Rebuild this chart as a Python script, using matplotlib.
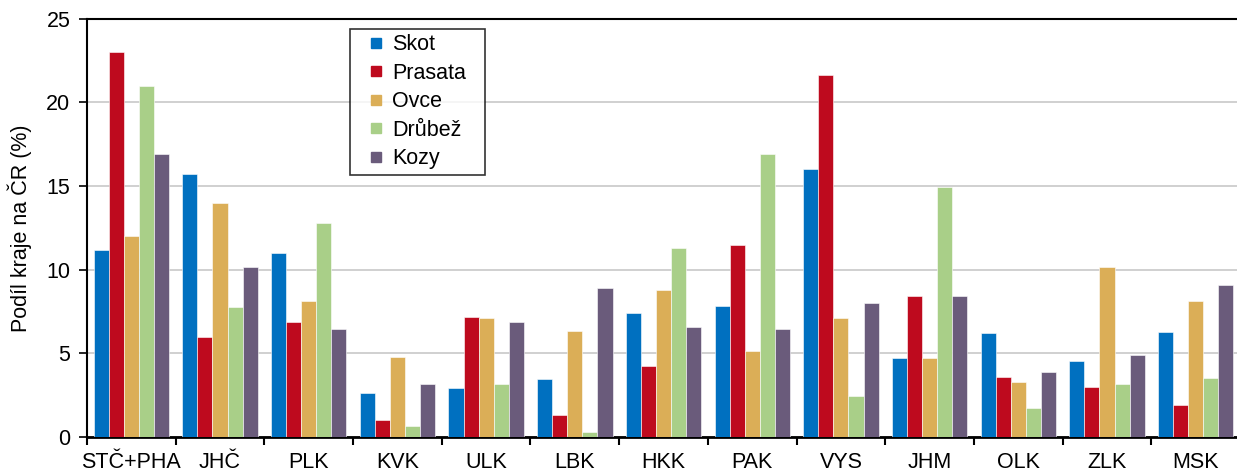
import matplotlib
matplotlib.use('Agg')
import matplotlib.pyplot as plt
from matplotlib.lines import Line2D
import numpy as np

plt.rcParams['font.family'] = ['Liberation Sans', 'DejaVu Sans']

kraje = ['STČ+PHA', 'JHČ', 'PLK', 'KVK', 'ULK', 'LBK', 'HKK', 'PAK', 'VYS', 'JHM', 'OLK', 'ZLK', 'MSK']
skot = [11.2, 15.7, 11.0, 2.6, 2.9, 3.45, 7.4, 7.8, 16.0, 4.75, 6.2, 4.55, 6.25]
prasata = [23.0, 6.0, 6.9, 1.0, 7.2, 1.3, 4.25, 11.5, 21.65, 8.45, 3.6, 3.0, 1.9]
ovce = [12.0, 14.0, 8.15, 4.8, 7.1, 6.35, 8.8, 5.15, 7.1, 4.7, 3.3, 10.15, 8.1]
drubez = [21.0, 7.75, 12.8, 0.65, 3.15, 0.3, 11.3, 16.9, 2.45, 14.95, 1.75, 3.15, 3.55]
kozy = [16.9, 10.15, 6.45, 3.15, 6.85, 8.9, 6.6, 6.45, 8.0, 8.4, 3.9, 4.9, 9.1]

serie = [skot, prasata, ovce, drubez, kozy]
nazvy = ['Skot', 'Prasata', 'Ovce', 'Drůbež', 'Kozy']
barvy = ['#0070C0', '#BE0A1E', '#DBAE57', '#A9CF88', '#6A5B7B']

fig = plt.figure(figsize=(12.37, 4.72), dpi=100)
ax = fig.add_axes([0.0703, 0.0742, 0.9322, 0.8862])

x = np.arange(len(kraje)) + 0.5
w = 0.17
for i, (vals, nazev, c) in enumerate(zip(serie, nazvy, barvy)):
    ax.bar(x + (i - 2) * w, vals, w, color=c, label=nazev, edgecolor='white', linewidth=0.4, zorder=3)

fs = 15.5
ax.set_xlim(0, len(kraje))
ax.set_ylim(0, 25)
ax.set_yticks([0, 5, 10, 15, 20, 25])
ax.set_xticks(np.arange(len(kraje) + 1))
ax.set_xticklabels([])
ax.set_xticks(x, minor=True)
ax.set_xticklabels(kraje, minor=True)
ax.tick_params(axis='x', which='major', length=6, width=1.5, direction='out')
ax.tick_params(axis='x', which='minor', length=0, labelsize=fs, pad=11)
ax.tick_params(axis='y', length=6, width=1.2, labelsize=fs, pad=6)
ax.grid(axis='y', color='#c8c8c8', linewidth=1.2, zorder=0)
ax.spines['right'].set_visible(False)
ax.spines['top'].set_linewidth(1.5)
ax.spines['left'].set_linewidth(1.5)
ax.spines['bottom'].set_linewidth(2)
ax.set_ylabel('Podíl kraje na ČR (%)', fontsize=fs, labelpad=10)

# legenda se čtverečky
handles = [Line2D([], [], linestyle='none', marker='s', markersize=7.9, color=c) for c in barvy]
leg = ax.legend(handles, nazvy, loc='upper left', bbox_to_anchor=(0.2281, 0.976, 0.117, 0.0),
                mode='expand', fontsize=fs, frameon=True, fancybox=False, edgecolor='black',
                handlelength=1.96, labelspacing=0.35, borderpad=0.25, handletextpad=-0.25,
                borderaxespad=0)
leg.get_frame().set_linewidth(1.2)

fig.savefig('out.png', dpi=100)
